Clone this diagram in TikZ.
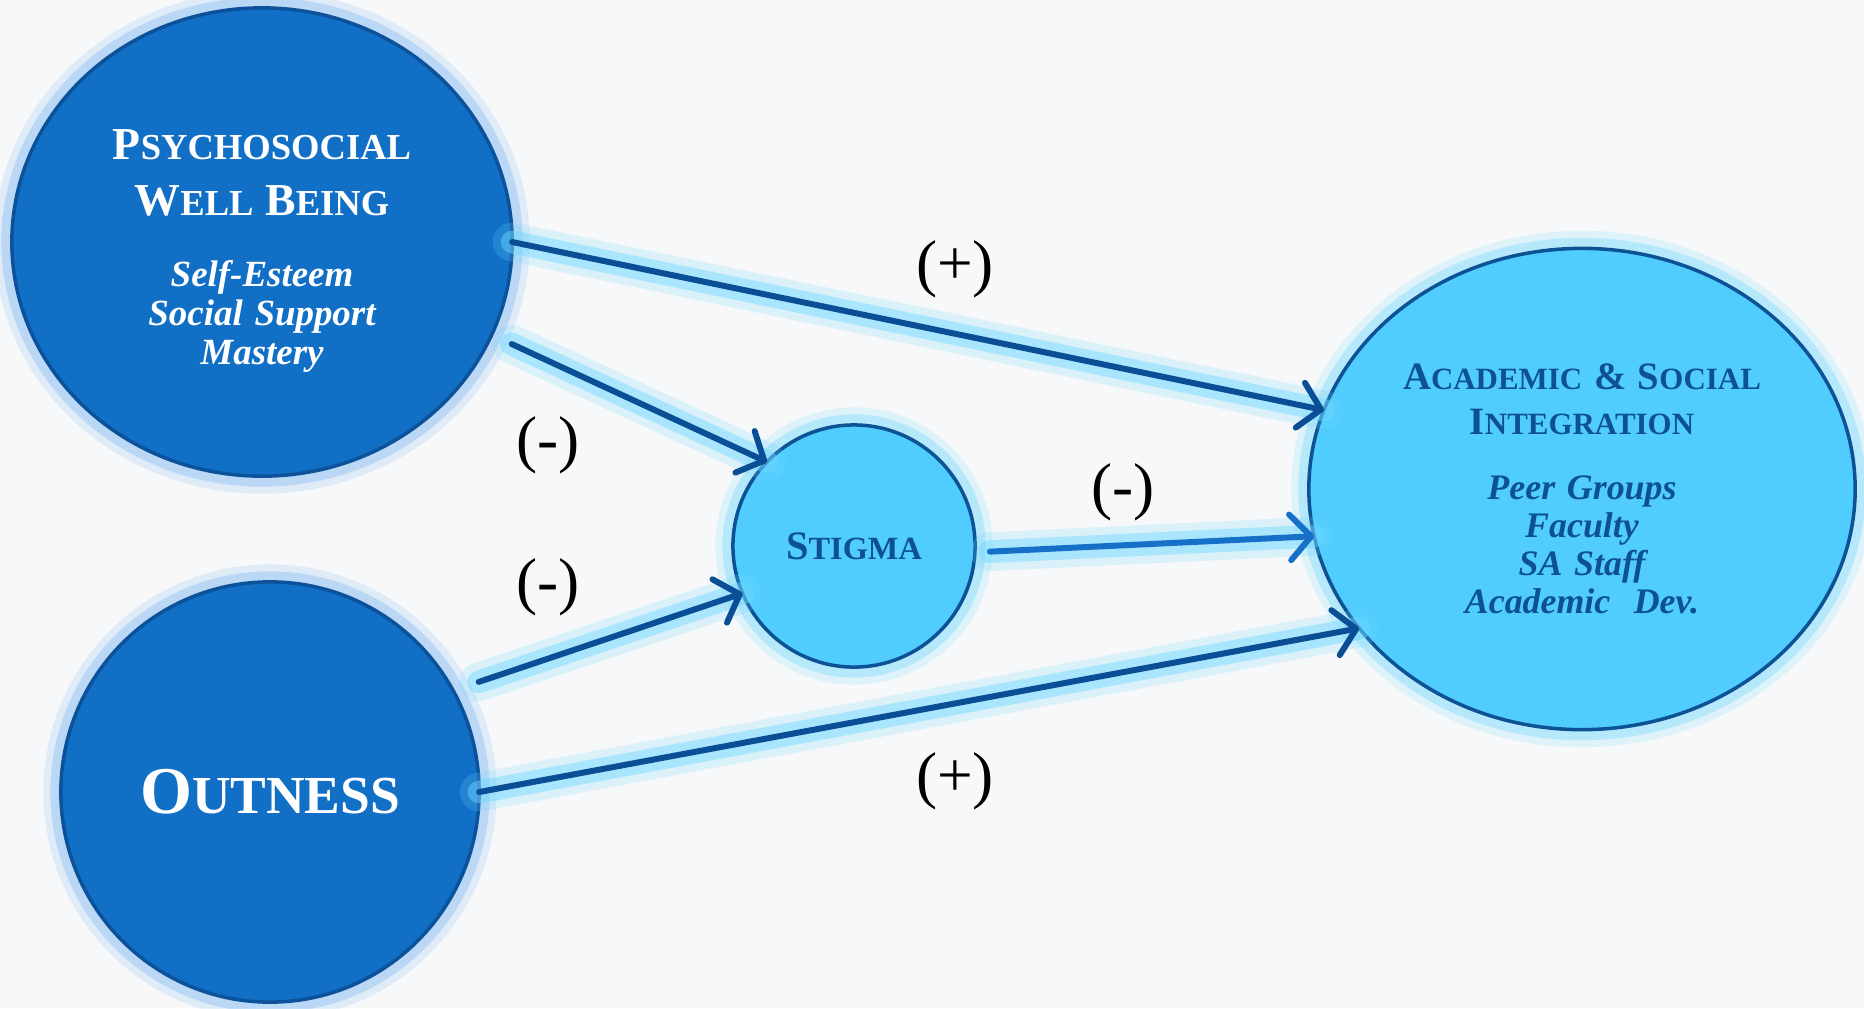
\documentclass[tikz,border=0pt]{standalone}
\usepackage{fontspec}
\setmainfont{Liberation Serif}
\usepackage{tikz}
\usetikzlibrary{arrows.meta}
\usetikzlibrary{shapes.geometric}
\definecolor{bgcol}{RGB}{247,248,249}
\definecolor{darkfill}{RGB}{17,112,198}
\definecolor{darkedge}{RGB}{12,82,155}
\definecolor{lightfill}{RGB}{80,204,254}
\definecolor{lightedge}{RGB}{14,82,150}
\definecolor{lighttext}{RGB}{14,80,150}
\definecolor{arrowcol}{RGB}{10,78,150}
\definecolor{brightarrow}{RGB}{22,112,200}
\definecolor{glowblue}{RGB}{120,180,245}
\definecolor{glowcyan}{RGB}{110,215,255}
% first letter big, the rest in smaller capitals
\newcommand{\capword}[3]{#2{\fontsize{#1}{#1}\selectfont #3}}

\begin{document}
\begin{tikzpicture}[
    x=0.01cm, y=-0.01cm,
    every node/.style={color=black},
    halo/.style={preaction={draw=#1, line width=10pt, opacity=0.18},
                 preaction={draw=#1, line width=6pt, opacity=0.35}},
    shine/.style={preaction={draw=glowcyan, -, line cap=round, line width=11pt, opacity=0.2},
                  preaction={draw=glowcyan, -, line cap=round, line width=6.5pt, opacity=0.45}},
    dark circle/.style={ellipse, draw=darkedge, fill=darkfill, line width=1pt,
                        inner sep=0pt, outer sep=0pt, text=white, halo=glowblue},
    light circle/.style={ellipse, draw=lightedge, fill=lightfill, line width=1pt,
                         inner sep=0pt, outer sep=0pt, text=lighttext, halo=glowcyan},
    path line/.style={draw=arrowcol, line width=1.7pt, line cap=round, shine,
                      -{Straight Barb[length=6pt, width=13pt, line cap=round, line join=round]}},
    sign/.style={font=\fontsize{18}{20}\selectfont}
    ]

    \path[use as bounding box, fill=bgcol] (0,0) rectangle (1864,1008);

    % circles
    \node[dark circle, minimum width=5cm, minimum height=4.68cm, text width=3.1cm,
          align=center, font=\bfseries] (psych) at (262,242)
        {{\fontsize{13}{16}\selectfont\rule{0pt}{13.5pt}\capword{10.4}{P}{SYCHOSOCIAL}\\
          \capword{10.4}{W}{ELL} \capword{10.4}{B}{EING}\par}
         \vspace{9pt}
         {\fontsize{10.5}{11.1}\selectfont\itshape Self-Esteem\\Social Support\\Mastery\par}};
    \node[dark circle, minimum width=4.18cm, minimum height=4.2cm,
          font=\bfseries\fontsize{19}{22}\selectfont] (outness) at (270,792)
        {\capword{15.2}{O}{UTNESS}};
    \node[light circle, minimum width=2.42cm, minimum height=2.42cm,
          font=\bfseries\fontsize{11.5}{13}\selectfont] (stigma) at (854,546)
        {\capword{9.2}{S}{TIGMA}};
    \node[light circle, minimum width=5.46cm, minimum height=4.81cm, text width=3.75cm,
          align=center, font=\bfseries] (acad) at (1582,489)
        {{\fontsize{11}{12.8}\selectfont\capword{8.8}{A}{CADEMIC} \& \capword{8.8}{S}{OCIAL}\\
          \capword{8.8}{I}{NTEGRATION}\par}
         \vspace{7.8pt}
         {\fontsize{10.2}{10.8}\selectfont\itshape Peer Groups\\Faculty\\SA Staff\\Academic~~Dev.\par}};

    % paths
    \draw[path line] (psych.east) -- (acad.163);
    \draw[path line, shorten <=0.22cm] (psych.-22.6) -- (stigma.136);
    \draw[path line, shorten <=0.27cm] (outness.29.4) -- (stigma.203.5);
    \draw[path line, draw=brightarrow, shorten <=0.15cm] (stigma.-3.7) -- (acad.190);
    \draw[path line] (outness.east) -- (acad.212.6);

    % signs
    \node[sign] (posTop) at (955,269) {(+)};
    \node[sign] (negUpper) at (548,445) {(-)};
    \node[sign] (negLower) at (548,587) {(-)};
    \node[sign] (negMid) at (1123,492) {(-)};
    \node[sign] (posBottom) at (955,781) {(+)};

\end{tikzpicture}
\end{document}
